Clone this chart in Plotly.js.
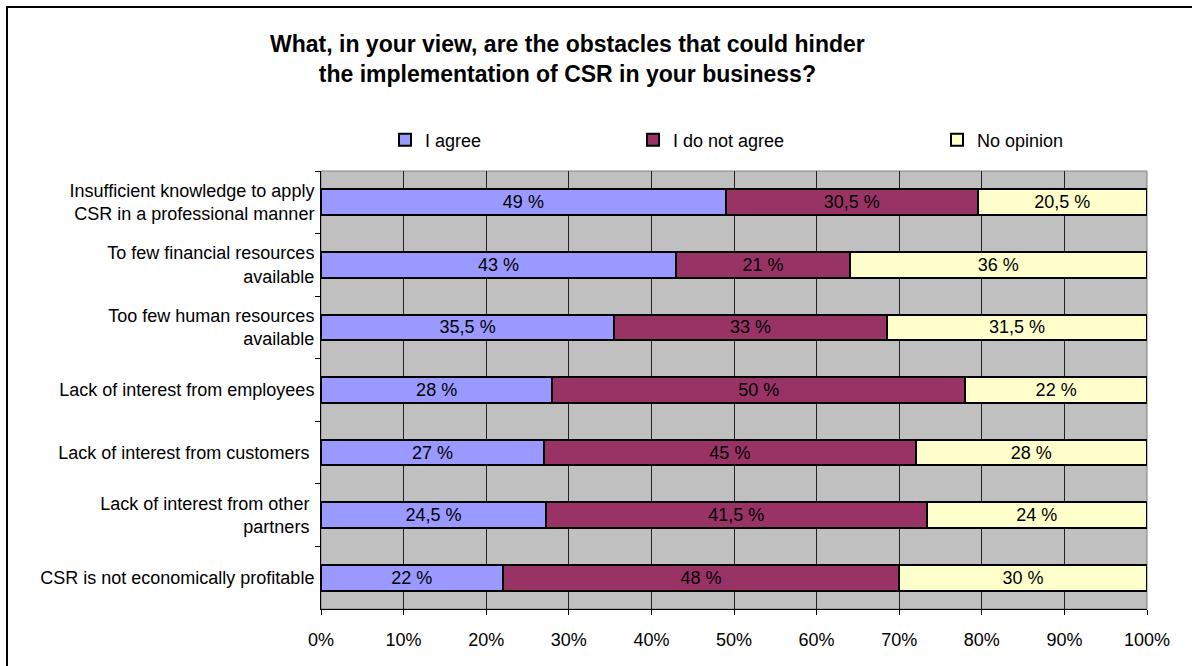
<!DOCTYPE html>
<html>
<head>
<meta charset="utf-8">
<script src="https://cdn.plot.ly/plotly-3.0.1.min.js"></script>
<style>html,body{margin:0;padding:0;background:#fff;}#chart{width:1192px;height:666px;}</style>
</head>
<body>
<div id="chart"></div>
<script>
const categories = [
  "Insufficient knowledge to apply<br>CSR in a professional manner",
  "To few financial resources<br>available",
  "Too few human resources<br>available",
  "Lack of interest from employees",
  "Lack of interest from customers ",
  "Lack of interest from other <br>partners ",
  "CSR is not economically profitable"
];
const agree = [49, 43, 35.5, 28, 27, 24.5, 22];
const disagree = [30.5, 21, 33, 50, 45, 41.5, 48];
const noOpinion = [20.5, 36, 31.5, 22, 28, 24, 30];
const seriesNames = ["I agree", "I do not agree", "No opinion"];
const seriesColors = ["#9999FF", "#993366", "#FFFFCC"];
const xTickVals = [0, 10, 20, 30, 40, 50, 60, 70, 80, 90, 100];

const fmt = v => String(v).replace('.', ',') + ' %';
const series = [agree, disagree, noOpinion];
const FONT = "Liberation Sans, Arial, sans-serif";
const legendIds = ['legend', 'legend2', 'legend3'];
const legendLeft = [385, 633, 937];

const traces = series.map((vals, i) => ({
  type: 'bar',
  orientation: 'h',
  name: seriesNames[i],
  legend: legendIds[i],
  y: categories,
  x: vals,
  text: vals.map(fmt),
  textposition: 'inside',
  insidetextanchor: 'middle',
  textangle: 0,
  constraintext: 'none',
  textfont: {family: FONT, size: 18, color: '#000'},
  marker: {color: seriesColors[i], line: {color: '#000', width: 2}},
  width: 0.41,
  hoverinfo: 'skip'
}));

const legendBase = {
  orientation: 'h',
  xref: 'container', yref: 'container',
  xanchor: 'left', yanchor: 'middle',
  y: 1 - 140 / 666,
  itemwidth: 30,
  font: {family: FONT, size: 18, color: '#000'},
  bgcolor: 'rgba(0,0,0,0)', borderwidth: 0
};

const layout = {
  width: 1192, height: 666,
  margin: {l: 321, r: 45, t: 171, b: 57},
  paper_bgcolor: '#fff',
  plot_bgcolor: '#C0C0C0',
  barmode: 'stack',
  barnorm: 'percent',
  font: {family: FONT, size: 18, color: '#000'},
  title: {
    text: '<b>What, in your view, are the obstacles that could hinder<br>the implementation of CSR in your business?</b>',
    font: {family: FONT, size: 23, color: '#000'},
    x: 0.476, xref: 'container', xanchor: 'center',
    y: 1 - 52 / 666, yref: 'container', yanchor: 'top'
  },
  showlegend: true,
  legend: Object.assign({}, legendBase, {x: legendLeft[0] / 1192}),
  legend2: Object.assign({}, legendBase, {x: legendLeft[1] / 1192}),
  legend3: Object.assign({}, legendBase, {x: legendLeft[2] / 1192}),
  xaxis: {
    range: [0, 100],
    tickmode: 'array',
    tickvals: xTickVals,
    ticktext: xTickVals.map(v => v + '%'),
    showgrid: true, gridcolor: '#222', gridwidth: 1,
    zeroline: false,
    showline: true, linecolor: '#000', linewidth: 1,
    ticks: 'outside', ticklen: 5, tickcolor: '#000',
    ticklabelstandoff: 9,
    tickfont: {family: FONT, size: 18, color: '#000'},
    fixedrange: true
  },
  yaxis: {
    type: 'category',
    autorange: 'reversed',
    tickson: 'boundaries',
    ticks: 'outside', ticklen: 5, tickcolor: '#000',
    showgrid: false,
    showline: true, linecolor: '#000', linewidth: 1,
    tickfont: {family: FONT, size: 18, color: '#000'},
    ticklabelstandoff: 2,
    fixedrange: true
  },
  shapes: [
    {type: 'rect', xref: 'paper', yref: 'paper', x0: 0, x1: 1, y0: 0, y1: 1,
     line: {color: '#808080', width: 1}, layer: 'below'},
    {type: 'rect', xref: 'paper', yref: 'paper',
     x0: (7 - 321) / 826, x1: 1.2, y0: -0.3, y1: 1 + (171 - 7) / 438,
     line: {color: '#000', width: 2}, fillcolor: 'rgba(0,0,0,0)', layer: 'above'}
  ]
};

Plotly.newPlot('chart', traces, layout, {displayModeBar: false, staticPlot: true});
</script>
</body>
</html>
